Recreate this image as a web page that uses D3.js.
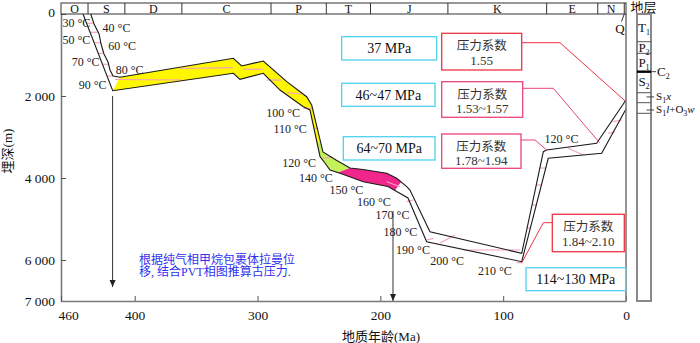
<!DOCTYPE html>
<html>
<head>
<meta charset="utf-8">
<script src="https://cdn.jsdelivr.net/npm/d3@7"></script>
<style>
body { margin: 0; background: #fff; }
svg text { font-family: "Liberation Serif", "Times New Roman", "Noto Sans CJK SC", serif; }
</style>
</head>
<body>
<div id="chart"></div>
<script>
// geological periods along the top (age edges in Ma)
var periods = ["O", "S", "D", "C", "P", "T", "J", "K", "E", "N", "Q"];
var periodEdges = [460, 438, 408, 361.6, 289, 244, 208, 145, 64.6, 23, 1.4, 0];

var xTicks = [460, 400, 300, 200, 100, 0];
var yTicks = [0, 2000, 4000, 6000, 7000];

// burial curves [age Ma, depth m]
var upperLine = [[435.8, 0], [433.1, 244], [429.0, 488], [427.4, 732], [425.0, 976], [421.7, 1171],
  [420.1, 1366], [417.6, 1512], [412.0, 1544], [319.7, 1080], [312.9, 1268], [295.3, 1146],
  [276.2, 1651], [260.0, 2017], [255.9, 2220], [246.7, 3366], [236.1, 3561], [224.7, 3756],
  [214.1, 3793], [194.8, 3885], [186.7, 4007], [178.5, 4212], [175.9, 4293], [159.6, 5310],
  [84.9, 5837], [67.3, 3359], [64.6, 3317], [23.9, 3154], [0, 2098]];
var lowerLine = [[442.1, 0], [417.9, 1871], [319.7, 1446], [314.3, 1593], [295.3, 1446],
  [281.7, 1854], [262.7, 2261], [257.3, 2341], [249.1, 3480], [245.0, 3641], [241.0, 3805],
  [232.8, 3885], [213.9, 4090], [193.8, 4207], [177.5, 4488], [162.3, 5554], [84.9, 6041],
  [63.3, 3520], [19.8, 3398], [0, 2317]];

// coloured parts of the band
var yellowZone = [[412.0, 1544], [319.7, 1080], [312.9, 1268], [295.3, 1146], [276.2, 1651],
  [260.0, 2017], [255.9, 2220], [248.8, 3122], [251.9, 3122], [257.3, 2341], [262.7, 2261],
  [281.7, 1854], [295.3, 1446], [314.3, 1593], [319.7, 1446], [417.9, 1871]];
var greenZone = [[248.8, 3122], [246.7, 3366], [236.1, 3561], [224.7, 3756], [234.5, 3868],
  [241.0, 3805], [245.0, 3641], [249.1, 3480], [251.9, 3122]];
var magentaZone = [[224.7, 3756], [214.1, 3793], [194.8, 3885], [186.7, 4007], [183.2, 4095],
  [188.1, 4305], [193.8, 4207], [213.9, 4090], [232.8, 3885], [234.5, 3868]];

// isotherm segments
var isotherms = [
  [[439.1, 227], [433.3, 227]], [[436.3, 446], [430.3, 446]], [[433.0, 700], [427.8, 700]],
  [[429.7, 959], [425.5, 959]], [[426.2, 1227], [421.7, 1227]], [[422.5, 1512], [417.6, 1512]],
  [[416.0, 1598], [361.5, 1610]], [[363.1, 1329], [320.0, 1310]], [[311.8, 1349], [295.5, 1349]],
  [[292.5, 1610], [280.3, 1610]], [[276.2, 1920], [264.0, 1951]], [[262.7, 2300], [254.6, 2300]],
  [[254.6, 2788], [250.5, 2788]], [[246.4, 3520], [239.6, 3480]], [[194.8, 4090], [184.0, 4212]],
  [[178.5, 4578], [173.2, 4537]], [[162.3, 5512], [156.9, 5471]], [[151.4, 5585], [139.2, 5390]],
  [[132.5, 5756], [86.3, 5756]], [[89.0, 6066], [84.9, 6066]], [[80.5, 5220], [77.4, 5220]],
  [[76.5, 4659], [72.6, 4659]], [[73.1, 4171], [68.5, 4171]], [[70.2, 3756], [64.9, 3756]],
  [[47.0, 3276], [34.8, 3439]], [[14.4, 2910], [9.0, 2871]], [[10.3, 2627], [3.5, 2585]]];

// temperature labels
var tempText = ["30 °C", "40 °C", "50 °C", "60 °C", "70 °C", "80 °C", "90 °C", "100 °C", "110 °C",
  "120 °C", "140 °C", "150 °C", "160 °C", "170 °C", "180 °C", "190 °C", "200 °C", "210 °C", "120 °C"];
var tempAge = [447.4, 414.8, 447.4, 410.3, 440.0, 404.2, 434.3, 279.2, 273.5, 266.2, 252.5, 227.7,
  205.2, 190.1, 183.7, 173.4, 145.7, 106.8, 52.5];
var tempDepth = [212, 334, 634, 773, 1163, 1366, 1732, 2407, 2812, 3641, 4007, 4293, 4578, 4902,
  5310, 5756, 6024, 6261, 3056];

// pressure annotations
var pressures = ["37 MPa", "46~47 MPa", "64~70 MPa", "114~130 MPa"];
var coefficients = ["1.55", "1.53~1.57", "1.78~1.94", "1.84~2.10"];
var coefTarget = [[0, 2140], [21.5, 3140], [64.6, 3317], [84.9, 6070]];

// sampling arrows [age, from depth, to depth]
var arrows = [[418, 2000, 6659], [189.7, 4805, 7000]];

// strata column
var strataName = ["T_1", "P_2", "P_1", "S_2", "S_1*x", "S_1*l+O_3*w"];
var strataTop = [0, 676, 959, 1407, 1920, 2163];
var strataBase = [676, 959, 1407, 1920, 2163, 2422];
var c2Depth = 1407;

var W = 700, H = 343;
var x = d3.scaleLinear().domain([460, 0]).range([61, 626]);
var y = d3.scaleLinear().domain([0, 7000]).range([14, 301]);

var svg = d3.select("#chart").append("svg").attr("width", W).attr("height", H);
svg.append("defs").append("marker")
    .attr("id", "arr").attr("markerUnits", "userSpaceOnUse")
    .attr("markerWidth", 8).attr("markerHeight", 8)
    .attr("refX", 7).attr("refY", 3).attr("orient", "auto")
  .append("path").attr("d", "M0,0L7,3L0,6Z").attr("fill", "#222");

var line = d3.line().x(function(d) { return x(d[0]); }).y(function(d) { return y(d[1]); });

// fills
[[yellowZone, "#fff700"], [greenZone, "#c4f05a"], [magentaZone, "#f0268c"]].forEach(function(z) {
  svg.append("path").attr("d", line(z[0]) + "Z").attr("fill", z[1]).attr("stroke", "none");
});

svg.selectAll(".iso").data(isotherms).enter().append("path")
    .attr("class", "iso").attr("d", line)
    .attr("fill", "none").attr("stroke", "#f5a0c5").attr("stroke-width", 1.2);

[upperLine, lowerLine].forEach(function(l) {
  svg.append("path").attr("d", line(l)).attr("fill", "none")
     .attr("stroke", "#1a1a1a").attr("stroke-width", 1.1);
});

// arrows
svg.selectAll(".arrow").data(arrows).enter().append("line")
    .attr("x1", function(d) { return x(d[0]); }).attr("x2", function(d) { return x(d[0]); })
    .attr("y1", function(d) { return y(d[1]); }).attr("y2", function(d) { return y(d[2]); })
    .attr("stroke", "#333").attr("stroke-width", 1).attr("marker-end", "url(#arr)");

// axes
var yAxis = d3.axisLeft(y).tickValues(yTicks).tickSize(-5).tickSizeOuter(0).tickPadding(6)
    .tickFormat(function(d) { return d3.format(",")(d).replace(",", " "); });
var gy = svg.append("g").attr("transform", "translate(61,0)").call(yAxis);
var xAxis = d3.axisBottom(x).tickValues(xTicks).tickSize(-5).tickSizeOuter(0).tickPadding(9);
var gx = svg.append("g").attr("transform", "translate(0,301)").call(xAxis);
[gx, gy].forEach(function(g) {
  g.select(".domain").attr("stroke", "#7a7a7a").attr("stroke-width", 1.6);
  g.selectAll(".tick line").attr("stroke", "#555");
  g.selectAll(".tick text").attr("font-size", 13.5).attr("fill", "#111")
   .style("font-family", "'Liberation Serif', serif");
});
gx.selectAll(".tick").filter(function(d) { return d === 460; }).select("text")
  .attr("text-anchor", "start").attr("x", -3);
gy.selectAll(".tick").filter(function(d) { return d === 0; }).select("text").attr("y", -2);
svg.append("line").attr("x1", x(0)).attr("x2", x(0)).attr("y1", y(0)).attr("y2", y(7000))
   .attr("stroke", "#7a7a7a").attr("stroke-width", 1.6);

svg.append("text").attr("transform", "translate(11.5,151) rotate(-90)")
   .attr("text-anchor", "middle").attr("font-size", 13).attr("fill", "#111").text("埋深(m)");
svg.append("text").attr("x", 381).attr("y", 341).attr("text-anchor", "middle")
   .attr("font-size", 13).attr("fill", "#111").text("地质年龄(Ma)");

// period band
var band = svg.append("g");
band.append("rect").attr("x", x(460)).attr("y", 3).attr("width", x(0) - x(460)).attr("height", 11)
    .attr("fill", "none").attr("stroke", "#333").attr("stroke-width", 1);
band.selectAll("line").data(periodEdges.slice(1, -1)).enter().append("line")
    .attr("x1", function(d) { return x(d); }).attr("x2", function(d) { return x(d); })
    .attr("y1", 3).attr("y2", 14).attr("stroke", "#333");
band.selectAll("text").data(periods.slice(0, 10)).enter().append("text")
    .attr("x", function(d, i) { return x((periodEdges[i] + periodEdges[i + 1]) / 2); })
    .attr("y", 12.5).attr("text-anchor", "middle").attr("font-size", 12).attr("fill", "#111")
    .text(function(d) { return d; });
band.append("line").attr("x1", x(1.4)).attr("y1", 14).attr("x2", 621.5).attr("y2", 21.5)
    .attr("stroke", "#333");
band.append("text").attr("x", 620).attr("y", 33).attr("text-anchor", "middle")
    .attr("font-size", 13).attr("fill", "#111").text(periods[10]);

// temperature labels
svg.selectAll(".temp").data(tempText).enter().append("text")
    .attr("class", "temp")
    .attr("x", function(d, i) { return x(tempAge[i]); })
    .attr("y", function(d, i) { return y(tempDepth[i]); })
    .attr("dy", "0.35em").attr("text-anchor", "middle").attr("font-size", 12).attr("fill", "#222")
    .text(function(d) { return d; });

// pressure boxes
var pBox = [[341.7, 36.7, 95, 23.3], [341.7, 83.3, 93.3, 23], [343.3, 136.7, 91.7, 23.3], [526, 267.7, 99.7, 23]];
pressures.forEach(function(p, i) {
  var b = pBox[i];
  svg.append("rect").attr("x", b[0]).attr("y", b[1]).attr("width", b[2]).attr("height", b[3])
     .attr("fill", "#fff").attr("stroke", "#4fd0f2").attr("stroke-width", 1.3);
  svg.append("text").attr("x", b[0] + b[2] / 2).attr("y", b[1] + b[3] / 2).attr("dy", "0.35em")
     .attr("text-anchor", "middle").attr("font-size", 14).attr("fill", "#111").text(p);
});

var cBox = [[441.7, 33.3, 80, 36.7], [441.7, 81.7, 81, 35.6], [441.7, 134, 79.3, 34.3], [552.3, 214.3, 72, 37.4]];
var cColor = ["#ee3344", "#e8437c", "#e8437c", "#ee3344"];
var cLead = [[[521.7, 42.7], [560, 42.7]], [[522.7, 88.3], [553.3, 88.3]], [[521, 140], [535, 140]], [[552.3, 222.7], [543.3, 222.7]]];
coefficients.forEach(function(c, i) {
  var b = cBox[i];
  var pts = cLead[i].concat([[x(coefTarget[i][0]), y(coefTarget[i][1])]]);
  svg.append("path").attr("d", d3.line()(pts)).attr("fill", "none")
     .attr("stroke", cColor[i]).attr("stroke-width", 1);
  svg.append("rect").attr("x", b[0]).attr("y", b[1]).attr("width", b[2]).attr("height", b[3])
     .attr("fill", "#fff").attr("stroke", cColor[i]).attr("stroke-width", 1.3);
  svg.append("text").attr("x", b[0] + b[2] / 2).attr("y", b[1] + 12.8).attr("dy", "0.35em")
     .attr("text-anchor", "middle").attr("font-size", 12.5).attr("fill", "#333").text("压力系数");
  svg.append("text").attr("x", b[0] + b[2] / 2).attr("y", b[1] + 26.8).attr("dy", "0.35em")
     .attr("text-anchor", "middle").attr("font-size", 13).attr("fill", "#333").text(c);
});

// note
var note = svg.append("text").attr("font-size", 12).attr("fill", "#3030f0");
note.append("tspan").attr("x", 139).attr("y", 263.5).text("根据纯气相甲烷包裹体拉曼位");
note.append("tspan").attr("x", 139).attr("y", 276).text("移, 结合PVT相图推算古压力.");

// strata column
var col = svg.append("g");
col.append("text").attr("x", 643.5).attr("y", 12).attr("text-anchor", "middle")
   .attr("font-size", 13).attr("fill", "#111").text("地层");
col.append("rect").attr("x", 637).attr("y", 14).attr("width", 14).attr("height", 287)
   .attr("fill", "none").attr("stroke", "#888").attr("stroke-width", 2);
col.selectAll(".sb").data(strataBase).enter().append("line")
   .attr("x1", 637).attr("x2", 651)
   .attr("y1", function(d) { return y(d); }).attr("y2", function(d) { return y(d); })
   .attr("stroke", function(d) { return d === c2Depth ? "#000" : "#555"; })
   .attr("stroke-width", function(d) { return d === c2Depth ? 2.4 : 1; });

// "_" marks next char as subscript, "*" as italic
function richText(sel, s) {
  var sub = false, ital = false, lowered = false;
  for (var k = 0; k < s.length; k++) {
    var ch = s[k];
    if (ch === "_") { sub = true; continue; }
    if (ch === "*") { ital = true; continue; }
    var t = sel.append("tspan").text(ch);
    if (sub) {
      t.attr("font-size", 8);
      if (!lowered) t.attr("dy", 3);
      lowered = true;
    } else if (lowered) {
      t.attr("dy", -3);
      lowered = false;
    }
    if (ital) t.attr("font-style", "italic");
    sub = false; ital = false;
  }
}

var outShift = [-0.8, 2];
strataName.forEach(function(s, i) {
  var mid = y((strataTop[i] + strataBase[i]) / 2);
  var t;
  if (i < 4) {
    t = col.append("text").attr("x", 644).attr("y", mid + 4).attr("text-anchor", "middle").attr("font-size", 13);
  } else {
    var ly = mid + outShift[i - 4];
    col.append("line").attr("x1", 646.5).attr("x2", 654).attr("y1", ly).attr("y2", ly).attr("stroke", "#444");
    t = col.append("text").attr("x", 656).attr("y", ly + 3.5).attr("font-size", 11);
  }
  t.attr("fill", "#111");
  richText(t, s);
});
col.append("line").attr("x1", 651).attr("x2", 656).attr("y1", y(c2Depth)).attr("y2", y(c2Depth)).attr("stroke", "#444");
var c2 = col.append("text").attr("x", 657).attr("y", y(c2Depth) + 4.5).attr("font-size", 13).attr("fill", "#111");
richText(c2, "C_2");
</script>
</body>
</html>
